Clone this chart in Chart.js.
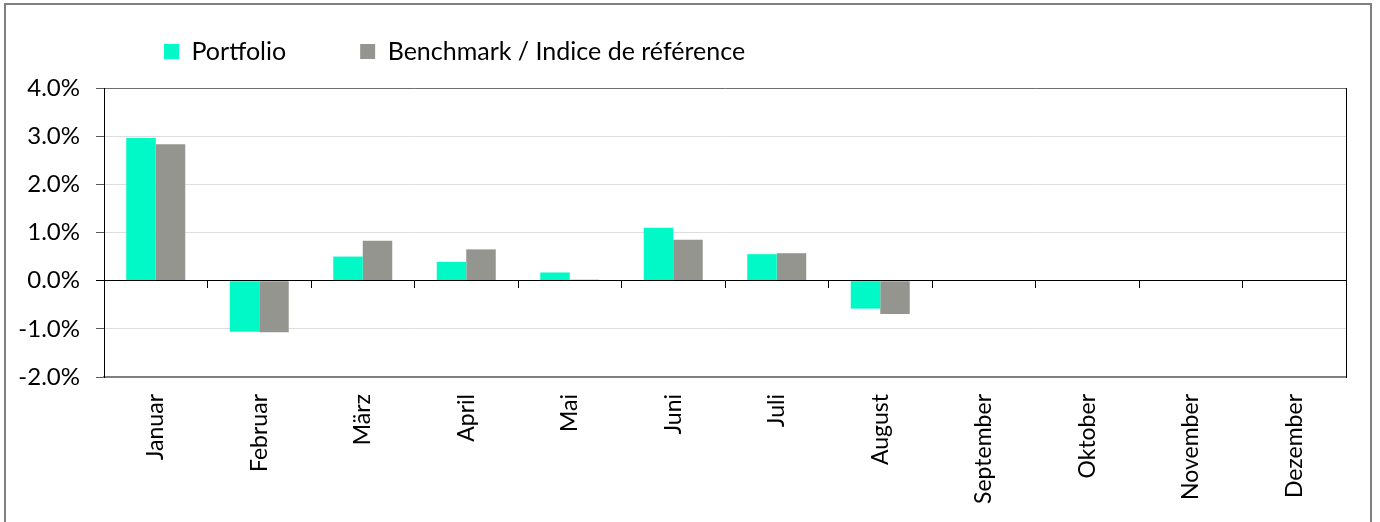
<!DOCTYPE html>
<html>
<head>
<meta charset="utf-8">
<script src="https://cdn.jsdelivr.net/npm/chart.js@4/dist/chart.umd.min.js"></script>
<style>
html, body { margin: 0; padding: 0; background: #fff; }
#wrap { position: relative; width: 1380px; height: 522px; overflow: hidden; }
#frame { position: absolute; left: 4px; top: 3px; width: 1368px; height: 540px; border: 2px solid #808080; box-sizing: border-box; pointer-events: none; }
</style>
</head>
<body>
<div id="wrap"><canvas id="c"></canvas><div id="frame"></div></div>
<script>
const categories = ['Januar', 'Februar', 'März', 'April', 'Mai', 'Juni', 'Juli', 'August', 'September', 'Oktober', 'November', 'Dezember'];
const seriesNames = ['Portfolio', 'Benchmark / Indice de référence'];
const portfolio = [2.96, -1.06, 0.50, 0.39, 0.17, 1.10, 0.55, -0.58, null, null, null, null];
const benchmark = [2.83, -1.07, 0.83, 0.65, 0.02, 0.85, 0.57, -0.69, null, null, null, null];
const yMin = -2, yMax = 4, yStep = 1;

const axisFont = { family: 'Lato', size: 23 };
const yFont = { family: 'Lato', size: 24 };
const legendFont = { family: 'Lato', size: 25 };

// moves the legend block to the right (Excel-like legend placement)
const legendShift = {
  id: 'legendShift',
  afterLayout(chart) {
    const lg = chart.legend;
    if (lg) { lg.left += 80; lg.right += 80; }
  }
};

new Chart(document.getElementById('c'), {
  type: 'bar',
  data: {
    labels: categories,
    datasets: [
      { label: seriesNames[0], data: portfolio, backgroundColor: '#00F9C6', borderWidth: 0, categoryPercentage: 0.57, barPercentage: 1.0, xAxisID: 'x', yAxisID: 'y' },
      { label: seriesNames[1], data: benchmark, backgroundColor: '#95958F', borderWidth: 0, categoryPercentage: 0.57, barPercentage: 1.0, xAxisID: 'x', yAxisID: 'y' }
    ]
  },
  plugins: [legendShift],
  options: {
    responsive: true,
    maintainAspectRatio: false,
    animation: false,
    layout: { padding: { left: 10, top: -35, right: 34, bottom: 0 } },
    plugins: {
      legend: {
        position: 'top',
        align: 'start',
        labels: { boxWidth: 15, boxHeight: 15, padding: 74, color: '#000', font: legendFont }
      },
      tooltip: { enabled: false }
    },
    scales: {
      x: {
        type: 'category',
        position: 'bottom',
        offset: true,
        grid: { display: false },
        border: { display: true, color: '#808080', width: 2, z: 1 },
        ticks: { autoSkip: false, minRotation: 90, maxRotation: 90, padding: 9, labelOffset: 0, color: '#000', font: axisFont },
        afterFit: s => { s.height = 145; }
      },
      xTop: {
        type: 'category',
        position: 'top',
        offset: true,
        grid: { display: false },
        ticks: { display: false },
        border: { display: true, color: '#6e6e6e', width: 1, z: 1 },
        afterFit: s => { s.height = 14; }
      },
      x0: {
        type: 'category',
        position: { y: 0 },
        offset: true,
        grid: { display: true, offset: true, drawOnChartArea: false, drawTicks: true, tickLength: 7, tickColor: '#000', color: '#000' },
        ticks: { display: false },
        border: { display: true, color: '#000', width: 1, z: 1 }
      },
      y: {
        type: 'linear',
        position: 'left',
        min: yMin,
        max: yMax,
        ticks: { stepSize: yStep, padding: 16, color: '#000', font: yFont, callback: v => v.toFixed(1) + '%' },
        grid: { color: '#dedede', tickLength: 8, tickColor: c => (c.tick && c.tick.value === 0 ? '#000' : '#5a5a5a') },
        border: { display: true, color: '#000', width: 1, z: 1 },
        afterFit: s => { s.width = 94; }
      },
      yR: {
        type: 'linear',
        position: 'right',
        grid: { display: false },
        ticks: { display: false },
        border: { display: true, color: '#000', width: 1, z: 1 },
        afterFit: s => { s.width = 0; }
      }
    }
  }
});
</script>
</body>
</html>
